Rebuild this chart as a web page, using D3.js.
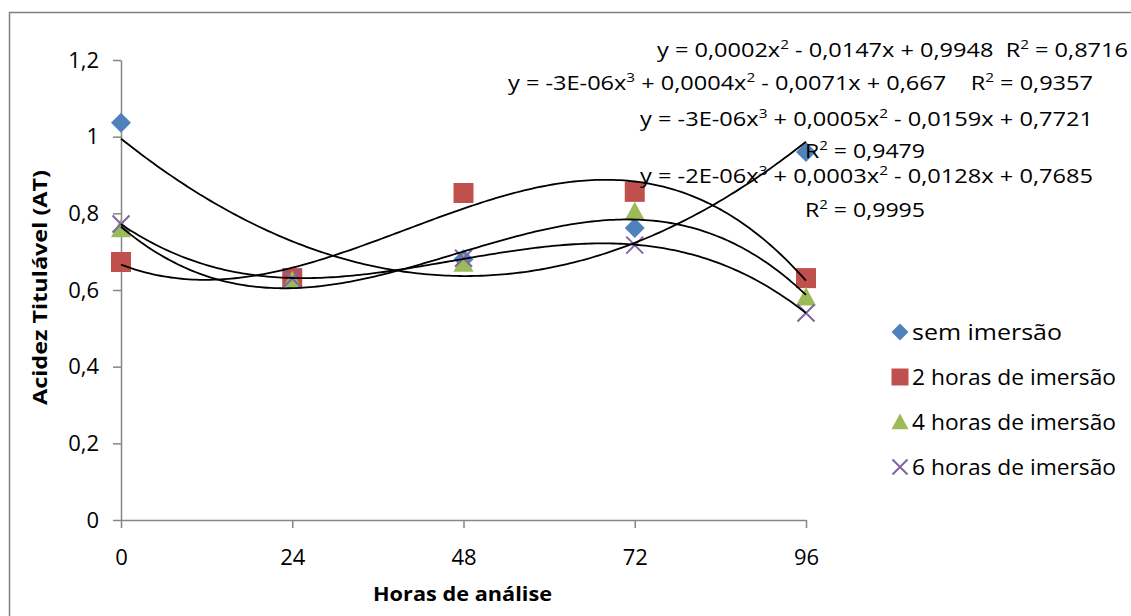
<!DOCTYPE html>
<html>
<head>
<meta charset="utf-8">
<script src="https://cdn.jsdelivr.net/npm/d3@7"></script>
<style>
    body { margin: 0; background: #fff; }
    svg { display: block; }
    text { font-family: "Open Sans", "Noto Sans", sans-serif; fill: #000; }
</style>
</head>
<body>
<div id="chart"></div>
<script>
// data
const hours = [0, 24, 48, 72, 96];
const semImersao = [1.036, 0.63, 0.68, 0.762, 0.96];
const duasHoras = [0.673, 0.631, 0.853, 0.856, 0.631];
const quatroHoras = [0.76, 0.625, 0.67, 0.804, 0.582];
const seisHoras = [0.772, 0.63, 0.683, 0.717, 0.54];

const seriesNames = ["sem imersão", "2 horas de imersão", "4 horas de imersão", "6 horas de imersão"];
const seriesValues = [semImersao, duasHoras, quatroHoras, seisHoras];
const trendOrders = [2, 3, 3, 3];

const xTicks = [0, 24, 48, 72, 96];
const yTicks = [0, 0.2, 0.4, 0.6, 0.8, 1, 1.2];

// trendline labels as Excel printed them (^n = superscript)
const equationLabels = [
    "y = 0,0002x^2 - 0,0147x + 0,9948  R^2 = 0,8716",
    "y = -3E-06x^3 + 0,0004x^2 - 0,0071x + 0,667    R^2 = 0,9357",
    "y = -3E-06x^3 + 0,0005x^2 - 0,0159x + 0,7721",
    "R^2 = 0,9479",
    "y = -2E-06x^3 + 0,0003x^2 - 0,0128x + 0,7685",
    "R^2 = 0,9995"
];

const W = 1131, H = 616;
const colors = ["#4F81BD", "#C0504D", "#9BBB59", "#8064A2"];
const shapes = ["diamond", "square", "triangle", "cross"];

const svg = d3.select("#chart").append("svg")
    .attr("width", W)
    .attr("height", H);

// outer frame
svg.append("rect")
    .attr("x", 9.5).attr("y", 12.5)
    .attr("width", 1140).attr("height", 640)
    .attr("fill", "none")
    .attr("stroke", "#7f7f7f")
    .attr("stroke-width", 1.5);

const x = d3.scaleLinear().domain([0, 96]).range([121, 806]);
const y = d3.scaleLinear().domain([0, 1.2]).range([520, 60]);

const fmt = d => String(+d.toFixed(1)).replace(".", ",");

// axes
const yAxis = svg.append("g")
    .attr("transform", `translate(${x(0)},0)`)
    .call(d3.axisLeft(y).tickValues(yTicks).tickFormat(fmt).tickSize(8).tickSizeOuter(0).tickPadding(14));

const xAxis = svg.append("g")
    .attr("transform", `translate(0,${y(0)})`)
    .call(d3.axisBottom(x).tickValues(xTicks).tickFormat(d => d).tickSize(8).tickSizeOuter(0).tickPadding(21));

[yAxis, xAxis].forEach(g => {
    g.select(".domain").attr("stroke", "#868686").attr("stroke-width", 1.5);
    g.selectAll(".tick line").attr("stroke", "#868686").attr("stroke-width", 1.5);
    g.selectAll(".tick text")
        .attr("font-family", "'Open Sans', sans-serif")
        .attr("font-size", "22px")
        .attr("fill", "#000");
});

// axis titles
svg.append("text")
    .attr("x", 373)
    .attr("y", 601)
    .attr("font-size", "20px")
    .attr("font-weight", "bold")
    .attr("textLength", 179)
    .attr("lengthAdjust", "spacingAndGlyphs")
    .text("Horas de análise");

svg.append("text")
    .attr("transform", `translate(47,405) rotate(-90)`)
    .attr("font-size", "20px")
    .attr("font-weight", "bold")
    .attr("textLength", 235)
    .attr("lengthAdjust", "spacingAndGlyphs")
    .text("Acidez Titulável (AT)");

// marker path generator
function markerPath(shape, s) {
    const h = s / 2;
    if (shape === "diamond") return `M0,${-h}L${h},0L0,${h}L${-h},0Z`;
    if (shape === "square") return `M${-h},${-h}H${h}V${h}H${-h}Z`;
    if (shape === "triangle") return `M0,${-h}L${h},${h * 0.85}H${-h}Z`;
    return `M${-h},${-h}L${h},${h}M${h},${-h}L${-h},${h}`;
}

function drawMarker(g, shape, color, s) {
    const p = g.append("path").attr("d", markerPath(shape, s));
    if (shape === "cross") {
        p.attr("fill", "none").attr("stroke", color).attr("stroke-width", 2);
    } else {
        p.attr("fill", color);
    }
    return p;
}

// series markers
seriesValues.forEach((vals, i) => {
    const g = svg.append("g");
    vals.forEach((v, j) => {
        const m = g.append("g").attr("transform", `translate(${x(hours[j])},${y(v)})`);
        drawMarker(m, shapes[i], colors[i], shapes[i] === "cross" ? 17 : 20);
    });
});

// least squares polynomial fit (what Excel's trendline does)
function polyfit(xs, ys, order) {
    const n = order + 1;
    const A = [];
    for (let r = 0; r < n; r++) {
        A.push(new Array(n + 1).fill(0));
        for (let c = 0; c < n; c++) {
            A[r][c] = d3.sum(xs, xv => Math.pow(xv, r + c));
        }
        A[r][n] = d3.sum(xs, (xv, k) => Math.pow(xv, r) * ys[k]);
    }
    for (let c = 0; c < n; c++) {
        let piv = c;
        for (let r = c + 1; r < n; r++) if (Math.abs(A[r][c]) > Math.abs(A[piv][c])) piv = r;
        [A[c], A[piv]] = [A[piv], A[c]];
        for (let r = 0; r < n; r++) {
            if (r === c) continue;
            const f = A[r][c] / A[c][c];
            for (let k = c; k <= n; k++) A[r][k] -= f * A[c][k];
        }
    }
    return A.map((row, r) => row[n] / row[r]);
}

const line = d3.line().x(d => x(d[0])).y(d => y(d[1]));
const xs = d3.range(0, 96.01, 0.5);

seriesValues.forEach((vals, i) => {
    const coef = polyfit(hours, vals, trendOrders[i]);
    const pts = xs.map(xv => [xv, d3.sum(coef, (c, k) => c * Math.pow(xv, k))]);
    svg.append("path")
        .attr("d", line(pts))
        .attr("fill", "none")
        .attr("stroke", "#000")
        .attr("stroke-width", 1.8);
});

// equation labels: start x, baseline, width
const eqPos = [
    { x: 657, y: 57, w: 471 },
    { x: 508, y: 90, w: 585 },
    { x: 640, y: 126, w: 453 },
    { x: 805, y: 158, w: 120 },
    { x: 640, y: 183, w: 453 },
    { x: 805, y: 217, w: 120 }
];

equationLabels.forEach((label, i) => {
    const t = svg.append("text")
        .attr("x", eqPos[i].x)
        .attr("y", eqPos[i].y)
        .attr("font-size", "20px")
        .attr("textLength", eqPos[i].w)
        .attr("lengthAdjust", "spacingAndGlyphs")
        .style("white-space", "pre");
    const parts = label.split(/\^(\d)/);
    let back = 0;
    parts.forEach((part, k) => {
        if (k % 2 === 0) {
            if (!part) return;
            const ts = t.append("tspan").text(part);
            if (back) { ts.attr("dy", back); back = 0; }
        } else {
            t.append("tspan").attr("dy", -8).attr("font-size", "13px").text(part);
            back = 8;
        }
    });
});

// legend
const legendWidths = [150, 204, 204, 204];
seriesNames.forEach((name, i) => {
    const gy = 332 + i * 45;
    const g = svg.append("g").attr("transform", `translate(900,${gy})`);
    drawMarker(g, shapes[i], colors[i], shapes[i] === "cross" ? 15 : 17);
    svg.append("text")
        .attr("x", 912)
        .attr("y", gy + 8)
        .attr("font-size", "21px")
        .attr("textLength", legendWidths[i])
        .attr("lengthAdjust", "spacingAndGlyphs")
        .text(name);
});
</script>
</body>
</html>
